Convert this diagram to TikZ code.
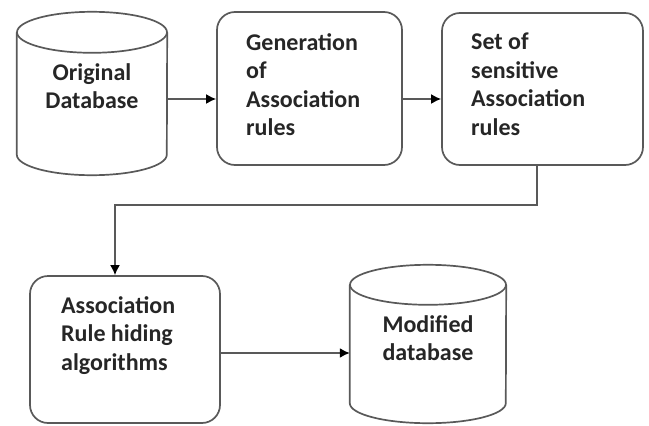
\documentclass[tikz,border=0pt]{standalone}
\usepackage{fontspec}
\setmainfont{Carlito}
\usetikzlibrary{arrows.meta,calc}

\tikzset{
  line/.style={draw=black!65, line width=1.7pt},
  arr/.style={line, -{Latex[length=10pt,width=10pt,fill=black,color=black]}},
  procbox/.style={line, rounded corners=18pt, inner sep=0pt},
  dbbody/.style={inner sep=0pt},
  lbl/.style={inner sep=0pt, text=black!85,
    font=\fontsize{24}{28.5}\selectfont\bfseries},
}

% cylinder outline around a body node: name, x radius, y radius
\newcommand\dbcylinder[3]{%
  \draw[line] ($(#1.north west)+(0,#3)$) -- ($(#1.south west)+(0,-#3)$)
    arc[start angle=180, end angle=360, x radius=#2pt, y radius=#3pt]
    -- ($(#1.north east)+(0,#3)$);
  \draw[line] ($(#1.north)+(0,#3)$) ellipse[x radius=#2pt, y radius=#3pt];
}

\begin{document}
\begin{tikzpicture}[x=1pt, y=-1pt]
  \useasboundingbox (0,0) rectangle (649,426);

  % shapes
  \node[dbbody, minimum width=150pt, minimum height=163pt] (db1) at (92,93.5) {};
  \dbcylinder{db1}{75}{20.5}
  \node[procbox, minimum width=185pt, minimum height=153pt] (gen) at (309.5,88.5) {};
  \node[procbox, minimum width=201pt, minimum height=152pt] (sens) at (542.5,89) {};
  \node[procbox, minimum width=190pt, minimum height=147pt] (hide) at (125,349.5) {};
  \node[dbbody, minimum width=156pt, minimum height=158pt] (db2) at (428,344) {};
  \dbcylinder{db2}{78}{20}

  % labels
  \node[lbl, align=center, anchor=north] (t1) at (92,63) {Original\\Database};
  \node[lbl, align=left, anchor=north west] (t2) at (246,33) {Generation\\of\\Association\\rules};
  \node[lbl, align=left, anchor=north west] (t3) at (471,33) {Set of\\sensitive\\Association\\rules};
  \node[lbl, align=left, anchor=north west] (t4) at (61,296) {Association\\Rule hiding\\algorithms};
  \node[lbl, align=center, anchor=north] (t5) at (428,315) {Modified\\database};

  % connectors
  \draw[arr] ([yshift=-5.5pt]db1.east) -- ([yshift=-5.5pt]db1.east -| gen.west);
  \draw[arr] ([yshift=-10.5pt]gen.east) -- ([yshift=-10.5pt]gen.east -| sens.west);
  \draw[arr] ([xshift=-5.5pt]sens.south) -- ++(0,39) -| ([xshift=-10pt]hide.north);
  \draw[arr] ([yshift=-3.5pt]hide.east) -- ([yshift=-3.5pt]hide.east -| db2.west);
\end{tikzpicture}
\end{document}
